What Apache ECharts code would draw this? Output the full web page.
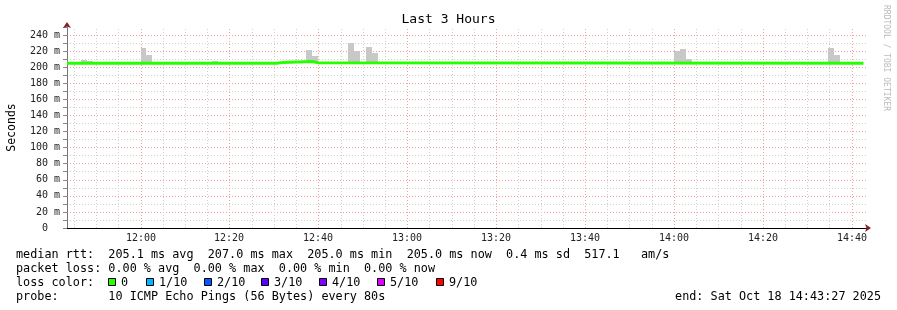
<!DOCTYPE html>
<html><head><meta charset="utf-8">
<script src="https://cdn.jsdelivr.net/npm/echarts@6/dist/echarts.min.js"></script>
<style>html,body{margin:0;padding:0;background:#fff}#c{width:897px;height:310px}</style>
</head><body><div id="c"></div>
<script>
// ---- data ----
const chartTitle = 'Last 3 Hours';
const startTime = '11:43:27';
const endTime = '14:43:27';
const stepSeconds = 80;
const yMin = 0, yMax = 250, yStep = 10;
const xTickLabels = ['12:00','12:20','12:40','13:00','13:20','13:40','14:00','14:20','14:40'];
const medianTimes  = ['11:43:27','12:30:40','12:32:00','12:38:40','12:40:00','14:42:40'];
const medianValues = [205.0, 206.0, 207.0, 205.5, 205.0, 205.0];
const smokeTimes = ['11:46:40','11:48:00','12:00:00','12:01:20','12:16:00','12:37:20','12:38:40','12:46:40','12:48:00','12:50:40','12:52:00','14:00:00','14:01:20','14:02:40','14:34:40','14:36:00'];
const smokeLow   = [205, 205, 205, 205, 205, 207, 207, 205, 205, 205, 205, 205, 205, 205, 205, 205];
const smokeHigh  = [209, 207.7, 224, 215, 207.7, 221, 214, 230, 220, 225, 218, 220, 222.6, 210, 224, 215];
const legendLines = [
  'median rtt:  205.1 ms avg  207.0 ms max  205.0 ms min  205.0 ms now  0.4 ms sd  517.1   am/s',
  'packet loss: 0.00 % avg  0.00 % max  0.00 % min  0.00 % now',
  'loss color:',
  'probe:       10 ICMP Echo Pings (56 Bytes) every 80s'
];
const lossLabels = ['0','1/10','2/10','3/10','4/10','5/10','9/10'];
const lossColors = ['#26ff00','#00b8ff','#0059ff','#5e00ff','#7e00ff','#dd00ff','#ff0000'];
const endLabel = 'end: Sat Oct 18 14:43:27 2025';
const watermark = 'RRDTOOL / TOBI OETIKER';

// ---- helpers ----
const toMin = s => { const p = s.split(':').map(Number); return p[0]*60 + p[1] + (p[2]||0)/60; };
const MONO = '"DejaVu Sans Mono"';
const xMin = toMin(startTime), xMax = toMin(endTime);
const gridMinutes = [];
for (let t = Math.ceil(xMin/5)*5; t < xMax; t += 5) gridMinutes.push(t);

const medianData = medianTimes.map((t,i)=>[toMin(t), medianValues[i]]);
const smokeData = smokeTimes.map((t,i)=>[toMin(t), smokeLow[i], smokeHigh[i]]);

// legend graphics
const graphics = [];
const lineY = [255, 269, 283, 297];
legendLines.forEach((s,i)=>graphics.push({type:'text', x:16, y:lineY[i], silent:true,
  style:{text:s, font:'11.8px '+MONO, fill:'#000', align:'left', verticalAlign:'middle'}}));
const boxX = [108, 146, 204, 261, 319, 377, 436];
lossLabels.forEach((l,i)=>{
  graphics.push({type:'rect', silent:true, shape:{x:boxX[i]+0.5, y:278.5, width:7, height:7},
    style:{fill:lossColors[i], stroke:'#000', lineWidth:1}});
  graphics.push({type:'text', x:boxX[i]+13, y:283, silent:true,
    style:{text:l, font:'11.8px '+MONO, fill:'#000', align:'left', verticalAlign:'middle'}});
});
graphics.push({type:'text', x:881, y:297, silent:true,
  style:{text:endLabel, font:'11.8px '+MONO, fill:'#000', align:'right', verticalAlign:'middle'}});
graphics.push({type:'text', x:886, y:5, rotation:-Math.PI/2, silent:true,
  style:{text:watermark, font:'8px '+MONO, fill:'#bbbbbb', align:'left', verticalAlign:'middle'}});

const chart = echarts.init(document.getElementById('c'), null, {renderer:'canvas'});
chart.setOption({
  animation:false,
  backgroundColor:'#ffffff',
  title:{text:chartTitle, left:'center', top:8, textStyle:{fontFamily:'DejaVu Sans Mono', fontSize:13, fontWeight:'normal', color:'#000'}},
  grid:{left:67, right:30, top:27, bottom:82, containLabel:false, outerBoundsMode:'none'},
  xAxis:[
    {type:'value', min:xMin, max:xMax, axisLine:{show:true, onZero:false, lineStyle:{color:'#000', width:1}},
     axisTick:{show:false}, axisLabel:{show:false}, splitLine:{show:false}},
    {type:'value', min:xMin, max:xMax, position:'bottom', axisLine:{show:true, onZero:false, symbol:['none','arrow'], symbolSize:[6,6], symbolOffset:[0,4], lineStyle:{color:'#7f1f1f', width:0}},
     axisTick:{show:false}, axisLabel:{show:false}, splitLine:{show:false}}
  ],
  yAxis:[
    {type:'value', min:yMin, max:yMax, interval:yStep,
     name:'Seconds', nameLocation:'middle', nameGap:49, nameRotate:90,
     nameTextStyle:{fontFamily:'DejaVu Sans Mono', fontSize:11.5, color:'#000'},
     axisLine:{show:true, lineStyle:{color:'#777', width:1}},
     axisTick:{show:true, length:4, lineStyle:{color:'#888'}},
     axisLabel:{margin:7, fontFamily:'DejaVu Sans Mono', fontSize:10, color:'#222',
       formatter:v => v % 20 === 0 ? (v === 0 ? '0  ' : v + ' m') : ''},
     splitLine:{show:true, showMaxLine:false, lineStyle:{color:['#f4a0a0','#d0d0d0'], width:1, type:[1,2]}}},
    {type:'value', min:yMin, max:yMax, position:'left',
     axisLine:{show:true, symbol:['none','arrow'], symbolSize:[6,6], symbolOffset:[0,5], lineStyle:{color:'#7f1f1f', width:0}},
     axisTick:{show:false}, axisLabel:{show:false}, splitLine:{show:false}}
  ],
  graphic:graphics,
  series:[
    {type:'custom', name:'vgrid', xAxisIndex:0, yAxisIndex:0, clip:false, z:1, silent:true,
     data:gridMinutes.map(t=>[t,0]), encode:{x:0,y:1},
     renderItem:(params, api)=>{
       const t = api.value(0);
       const b = api.coord([t, yMin]), top = api.coord([t, yMax]);
       const x = Math.round(b[0]) + 0.5;
       const major = Math.round(t) % 20 === 0;
       return {type:'line', shape:{x1:x, y1:b[1], x2:x, y2:top[1]},
         style:{stroke: major ? '#f4a0a0' : '#d0d0d0', lineWidth:1, lineDash:[1,2]}};
     }},
    {type:'custom', name:'xlabels', xAxisIndex:0, yAxisIndex:0, clip:false, z:5, silent:true,
     data:xTickLabels.map(l=>[toMin(l),0]), encode:{x:0,y:1},
     renderItem:(params, api)=>{
       const p = api.coord([api.value(0), yMin]);
       return {type:'text', x:Math.round(p[0]), y:p[1]+10,
         style:{text:xTickLabels[params.dataIndex], font:'10px '+MONO, fill:'#222', align:'center', verticalAlign:'middle'}};
     }},
    {type:'custom', name:'smoke', xAxisIndex:0, yAxisIndex:0, z:3, silent:true,
     data:smokeData, encode:{x:0, y:[1,2]},
     renderItem:(params, api)=>{
       const t = api.value(0), lo = api.value(1), hi = api.value(2);
       const p0 = api.coord([t, hi]), p1 = api.coord([t + stepSeconds/60, lo]);
       const x0 = Math.round(p0[0]), x1 = Math.round(p1[0]);
       const y0 = Math.round(p0[1]), y1 = Math.round(p1[1]);
       return {type:'rect', shape:{x:x0, y:y0, width:x1-x0, height:y1-y0}, style:{fill:'#c8c8c8'}};
     }},
    {type:'line', name:'median', step:'end', data:medianData, showSymbol:false, symbol:'none', z:4,
     lineStyle:{color:'#26ff00', width:3}, silent:true}
  ]
});
</script></body></html>
